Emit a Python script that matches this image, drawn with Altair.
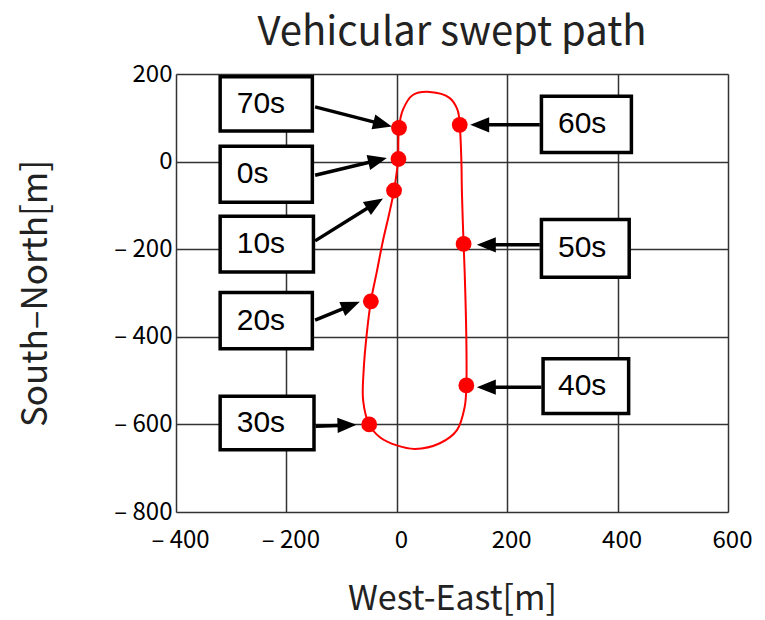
import math
import altair as alt
import pandas as pd

# Vehicle position every 10 s [m]
times = ["0s", "10s", "20s", "30s", "40s", "50s", "60s", "70s"]
east = [3, -5, -47, -50, 126, 121, 114, 4]
north = [6, -66, -319, -600, -511, -188, 84, 77]

# Swept path traced as a closed loop starting at t = 0
path_east = [3, -5, -14, -25, -36, -47, -55, -60, -61, -50, -30, 0, 33, 78, 109, 123,
             126, 126, 123, 121, 118, 117, 114, 110, 96, 60, 29, 11, 4, 3]
path_north = [6, -66, -120, -180, -250, -319, -400, -476, -545, -600, -630, -648, -656,
              -643, -613, -560, -511, -407, -254, -188, -72, 0, 84, 118, 145, 159, 152,
              118, 77, 6]

# Callout boxes in data units: left, right, top, bottom
box_left = [-320, -320, -320, -320, 265, 262, 262, -320]
box_right = [-153, -151, -153, -150, 420, 421, 425, -153]
box_top = [35, -125, -299, -536, -450, -132, 149, 194]
box_bottom = [-93, -252, -427, -658, -575, -264, 21, 70]
text_x = [-290, -290, -290, -290, 292, 292, 292, -290]

# Arrows: tail at the box edge, head next to the marker
arrow_x0 = [-148, -148, -148, -147, 262, 259, 259, -148]
arrow_y0 = [-31, -181, -362, -604, -515, -190, 84, 125]
arrow_x1 = [-18, -25, -67, -73, 145, 145, 133, -9]
arrow_y1 = [8, -84, -320, -601, -515, -190, 84, 80]

X_DOMAIN = [-400, 600]
Y_DOMAIN = [-800, 200]
W, H = 552, 438
KX = W / (X_DOMAIN[1] - X_DOMAIN[0])
KY = H / (Y_DOMAIN[1] - Y_DOMAIN[0])
HEAD_LEN = 19

FONT = "Noto Sans CJK JP"

path_df = pd.DataFrame({"x": path_east, "y": path_north, "order": range(len(path_east))})
pts_df = pd.DataFrame({"x": east, "y": north, "t": times})
box_df = pd.DataFrame({
    "x": box_left, "x2": box_right, "y": box_top, "y2": box_bottom, "t": times,
    "tx": text_x, "ty": [(a + b) / 2 for a, b in zip(box_top, box_bottom)],
})

shaft_rows, head_rows = [], []
for x0, y0, x1, y1 in zip(arrow_x0, arrow_y0, arrow_x1, arrow_y1):
    dxp = (x1 - x0) * KX
    dyp = -(y1 - y0) * KY
    length = math.hypot(dxp, dyp)
    f = (length - HEAD_LEN + 1) / length
    shaft_rows.append({"x": x0, "y": y0, "x2": x0 + (x1 - x0) * f, "y2": y0 + (y1 - y0) * f})
    head_rows.append({"x": x1, "y": y1, "angle": math.degrees(math.atan2(dyp, dxp)) % 360})
shaft_df = pd.DataFrame(shaft_rows)
head_df = pd.DataFrame(head_rows)

xs = alt.Scale(domain=X_DOMAIN, nice=False, zero=False)
ys = alt.Scale(domain=Y_DOMAIN, nice=False, zero=False)

label_expr = "datum.value < 0 ? '\u2013 ' + (-datum.value) : '' + datum.value"

x_axis = alt.Axis(
    title="West-East[m]", values=[-400, -200, 0, 200, 400, 600], grid=True, ticks=False,
    domain=False, labelExpr=label_expr, labelFont=FONT, labelFontSize=24,
    labelColor="black", labelPadding=16, labelOffset=4, labelFlush=False,
    titleFont=FONT, titleFontSize=34, titleFontWeight="normal", titleColor="#222",
    titleX=W / 2, titleY=87, titleBaseline="middle",
    gridColor="#333", gridWidth=1.5, gridOpacity=1,
)
y_axis = alt.Axis(
    title="South\u2013North[m]", values=[-800, -600, -400, -200, 0, 200], grid=True,
    ticks=False, domain=False, labelExpr=label_expr, labelFont=FONT, labelFontSize=24,
    labelColor="black", labelPadding=4, labelFlush=False, labelBaseline="middle",
    titleFont=FONT, titleFontSize=35, titleFontWeight="normal", titleColor="#222",
    titleX=-141, titleY=H / 2, titleAngle=270, titleBaseline="middle", titleAlign="center",
    gridColor="#333", gridWidth=1.5, gridOpacity=1,
)


def X(field="x"):
    return alt.X(f"{field}:Q", scale=xs, axis=x_axis)


def Y(field="y"):
    return alt.Y(f"{field}:Q", scale=ys, axis=y_axis)


path = alt.Chart(path_df).mark_line(
    color="#ff0000", strokeWidth=2, interpolate="catmull-rom"
).encode(x=X(), y=Y(), order="order:Q")

dots = alt.Chart(pts_df).mark_point(
    filled=True, color="#ff0000", size=250, opacity=1, shape="circle"
).encode(x=X(), y=Y())

boxes = alt.Chart(box_df).mark_rect(
    fill="white", stroke="black", strokeWidth=3.5
).encode(x=X(), x2="x2:Q", y=Y(), y2="y2:Q")

labels = alt.Chart(box_df).mark_text(
    font="Liberation Sans", fontSize=30, align="left", baseline="middle", color="black"
).encode(x=X("tx"), y=Y("ty"), text="t:N")

shafts = alt.Chart(shaft_df).mark_rule(
    color="black", strokeWidth=3.5, strokeCap="butt"
).encode(x=X(), y=Y(), x2="x2:Q", y2="y2:Q")

heads = alt.Chart(head_df).mark_point(
    filled=True, color="black", opacity=1, size=361, shape="M0,0L-2,-0.8L-2,0.8Z"
).encode(x=X(), y=Y(), angle=alt.Angle("angle:Q", scale=None))

chart = alt.layer(path, dots, boxes, labels, shafts, heads).properties(
    width=W,
    height=H,
    title=alt.TitleParams(
        "Vehicular swept path", font=FONT, fontSize=40, fontWeight="normal",
        color="#222", anchor="middle", offset=9,
    ),
    padding={"left": 176, "top": 74, "right": 37, "bottom": 108},
    autosize=alt.AutoSizeParams(type="none"),
).configure_view(
    stroke="black", strokeWidth=2
).configure(background="white")

chart.save("out.html", embed_options={"renderer": "svg", "actions": False})
